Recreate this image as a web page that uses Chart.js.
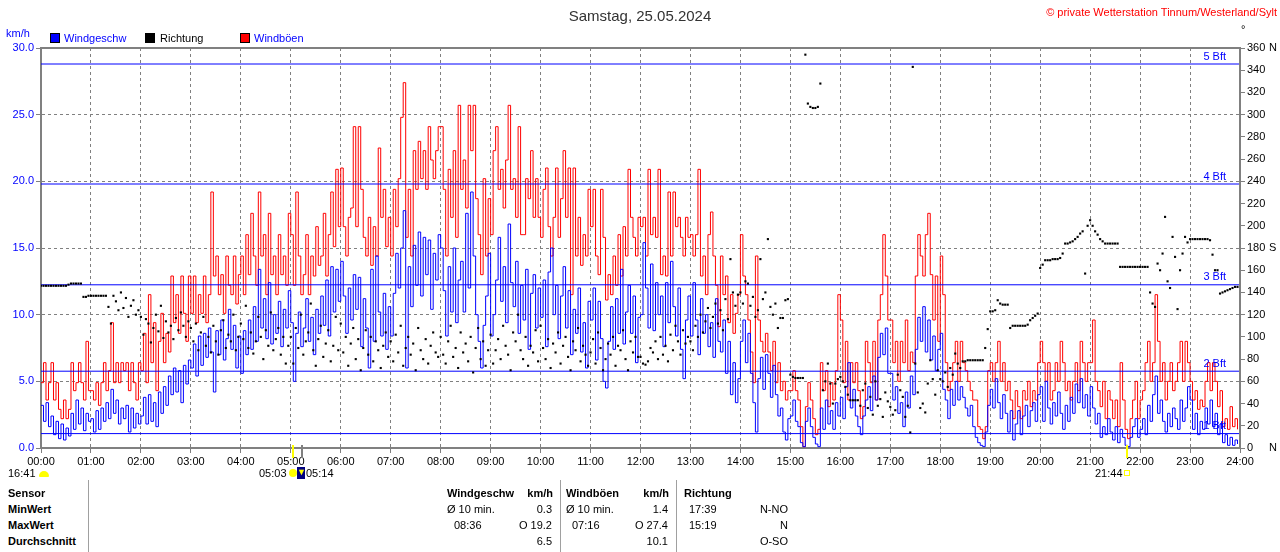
<!DOCTYPE html>
<html>
<head>
<meta charset="utf-8">
<title>Wind 25.05.2024</title>
<script src="https://cdn.jsdelivr.net/npm/chart.js@4.4.1/dist/chart.umd.min.js"></script>
<style>
  body { margin: 0; background: #fff; font-family: "Liberation Sans", Arial, sans-serif; }
  #wrap { position: relative; width: 1280px; height: 552px; overflow: hidden; background: #fff; }
  #c { position: absolute; left: 0; top: 0; }
  .t { position: absolute; white-space: nowrap; font-size: 11px; line-height: 14px; color: #000; }
  .r { text-align: right; }
  .b { font-weight: bold; }
  .sq { position: absolute; width: 10px; height: 10px; box-sizing: border-box; border: 1px solid #000; }
  .vl { position: absolute; top: 480px; width: 1px; height: 72px; background: #a0a0a0; }
</style>
</head>
<body>
<div id="wrap">
  <canvas id="c" width="1280" height="480"></canvas>

  <div class="t" style="left:0;width:1280px;text-align:center;top:7px;font-size:15px;line-height:18px;color:#333">Samstag, 25.05.2024</div>
  <div class="t r" style="right:3px;top:5px;color:#ff0000">© private Wetterstation Tinnum/Westerland/Sylt</div>
  <div class="t" style="left:1241px;top:22px">°</div>

  <div class="t" style="left:6px;top:26px;color:#0000ff">km/h</div>
  <div class="sq" style="left:50px;top:33px;background:#0000ff"></div>
  <div class="t" style="left:64px;top:31px;color:#0000ff">Windgeschw</div>
  <div class="sq" style="left:145px;top:33px;background:#000"></div>
  <div class="t" style="left:160px;top:31px">Richtung</div>
  <div class="sq" style="left:240px;top:33px;background:#ff0000"></div>
  <div class="t" style="left:254px;top:31px;color:#0000ff">Windböen</div>

  <!-- Sonne / Mond -->
  <div class="t" style="left:8px;top:466px">16:41</div>
  <div style="position:absolute;left:39px;top:471px;width:10px;height:6px;background:#ffff00;border-radius:5px 5px 1px 1px"></div>
  <div class="t" style="left:259px;top:466px">05:03</div>
  <div style="position:absolute;left:289px;top:469px;width:8px;height:8px;background:#ffff00;border-radius:4px"></div>
  <div style="position:absolute;left:297px;top:467px;width:8px;height:12px;background:#000080;color:#ffff00;font-size:9px;line-height:10px;text-align:center">▼</div>
  <div class="t" style="left:306px;top:466px">05:14</div>
  <div class="t" style="left:1095px;top:466px">21:44</div>
  <div style="position:absolute;left:1124px;top:470px;width:6px;height:6px;box-sizing:border-box;border:1px solid #ffff00"></div>

  <!-- Tabelle -->
  <div class="vl" style="left:88px"></div>
  <div class="vl" style="left:560px"></div>
  <div class="vl" style="left:676px"></div>

  <div class="t b" style="left:8px;top:486px">Sensor</div>
  <div class="t b" style="left:8px;top:502px">MinWert</div>
  <div class="t b" style="left:8px;top:518px">MaxWert</div>
  <div class="t b" style="left:8px;top:534px">Durchschnitt</div>

  <div class="t b" style="left:447px;top:486px">Windgeschw</div>
  <div class="t b r" style="right:727px;top:486px">km/h</div>
  <div class="t b" style="left:566px;top:486px">Windböen</div>
  <div class="t b r" style="right:611px;top:486px">km/h</div>
  <div class="t b" style="left:684px;top:486px">Richtung</div>

  <div class="t" style="left:447px;top:502px">Ø 10 min.</div>
  <div class="t r" style="right:728px;top:502px">0.3</div>
  <div class="t" style="left:566px;top:502px">Ø 10 min.</div>
  <div class="t r" style="right:612px;top:502px">1.4</div>
  <div class="t" style="left:689px;top:502px">17:39</div>
  <div class="t r" style="right:492px;top:502px">N-NO</div>

  <div class="t" style="left:454px;top:518px">08:36</div>
  <div class="t r" style="right:728px;top:518px">O 19.2</div>
  <div class="t" style="left:572px;top:518px">07:16</div>
  <div class="t r" style="right:612px;top:518px">O 27.4</div>
  <div class="t" style="left:689px;top:518px">15:19</div>
  <div class="t r" style="right:492px;top:518px">N</div>

  <div class="t r" style="right:728px;top:534px">6.5</div>
  <div class="t r" style="right:612px;top:534px">10.1</div>
  <div class="t r" style="right:492px;top:534px">O-SO</div>
</div>

<script>
// Messwerte alle 3 Minuten, eine Zeile pro Stunde (00:00 .. 23:57)
var stepMin = 3;
var hourLabels = ['00:00','01:00','02:00','03:00','04:00','05:00','06:00','07:00','08:00','09:00','10:00','11:00','12:00',
                  '13:00','14:00','15:00','16:00','17:00','18:00','19:00','20:00','21:00','22:00','23:00','24:00'];

// Windböen km/h
var gust = [
  4.9,6.4,3.6,4.9,6.4,3.6,4.9,2.9,2.2,3.6,2.2,2.9,6.4,4.3,4.9,6.4,4.9,3.6,8.0,4.3,
  4.3,3.6,4.9,3.2,4.9,6.4,4.3,5.8,9.4,4.9,6.4,4.9,6.4,5.8,6.4,4.3,6.4,4.9,3.6,6.4,
  5.8,8.6,4.9,11.5,6.4,9.4,4.3,8.0,10.1,6.4,8.6,7.2,12.9,9.4,11.5,8.6,12.9,10.1,8.0,12.9,
  10.1,12.9,9.4,11.5,10.1,12.9,9.4,11.5,19.2,12.9,14.4,11.5,13.0,10.1,14.4,12.2,11.5,14.4,10.8,13.0,
  14.4,11.5,16.0,13.0,17.6,14.4,12.2,19.2,14.4,16.0,11.5,17.6,13.0,14.4,11.5,16.0,13.0,14.4,12.2,17.6,
  16.0,12.2,19.2,14.4,11.5,13.0,16.0,11.5,14.4,12.9,16.6,13.7,14.4,17.6,12.9,16.0,19.2,15.1,20.9,16.6,
  21.0,16.6,14.4,17.3,18.0,24.1,16.6,24.1,19.4,15.8,14.4,17.3,13.7,16.6,14.4,22.5,17.3,19.4,15.1,17.3,
  14.4,19.4,16.6,20.2,24.8,27.4,15.8,19.4,14.4,22.3,19.4,23.0,20.2,22.3,19.4,24.1,21.6,20.2,22.3,24.1,
  24.1,19.4,14.4,20.9,17.3,22.3,15.8,25.7,19.4,21.6,18.0,25.7,22.3,25.7,18.7,16.0,13.0,20.2,14.4,18.7,
  16.0,22.3,24.1,19.4,20.9,18.0,21.6,25.7,19.4,20.2,17.3,24.1,16.0,16.0,20.2,18.7,22.3,17.3,20.2,17.3,
  15.8,19.4,21.0,16.6,14.4,17.3,21.0,15.8,18.7,22.3,17.3,21.0,11.5,21.0,14.4,17.3,13.7,16.0,14.4,19.4,
  16.6,19.4,14.4,13.0,19.4,15.8,11.1,13.0,11.5,14.4,12.2,16.0,12.9,16.6,14.4,20.9,17.3,15.8,14.4,17.3,
  16.6,17.3,14.4,20.9,16.0,17.3,15.8,20.9,13.0,14.4,12.9,19.2,14.4,19.2,16.6,17.3,15.8,14.4,17.3,15.8,
  16.0,14.4,16.0,20.9,12.9,14.4,11.5,16.0,17.7,14.4,12.2,9.1,14.4,11.5,12.9,9.4,11.5,8.6,10.1,11.5,
  16.0,12.9,11.5,9.6,7.2,4.9,14.4,9.6,8.0,7.2,8.6,7.2,5.8,8.0,4.9,6.4,4.3,5.0,3.6,4.3,
  4.3,5.8,4.3,3.6,1.6,0.1,3.1,4.9,3.6,2.2,1.0,1.4,6.4,4.3,5.8,3.1,4.9,3.6,5.8,11.5,
  9.6,4.9,8.0,3.6,6.4,4.9,6.4,4.3,2.2,3.1,8.0,6.4,4.9,8.0,3.6,9.6,11.5,16.0,12.9,9.6,
  9.6,6.4,8.0,5.0,8.0,6.4,9.6,5.8,7.2,6.4,12.9,16.0,14.4,12.9,16.0,17.6,13.0,9.6,12.9,8.0,
  14.4,11.5,6.4,4.3,5.0,6.4,8.0,5.0,8.0,6.4,5.8,5.0,4.3,3.6,3.6,1.6,1.4,0.7,1.6,5.8,
  6.4,5.0,6.4,8.0,5.0,6.4,4.3,5.0,3.6,2.2,4.3,3.1,2.2,4.3,3.6,5.0,3.1,4.3,3.6,6.4,
  8.0,6.4,5.0,6.4,3.6,4.3,6.4,5.0,8.0,6.4,4.3,5.0,3.6,5.0,6.4,4.3,8.0,6.4,5.0,6.4,
  6.4,9.6,5.0,4.3,3.1,5.0,2.2,4.3,3.6,2.2,3.6,1.6,6.4,3.6,1.4,0.7,2.2,3.6,5.0,2.2,
  3.6,4.3,6.4,8.0,5.0,6.4,11.5,8.0,5.0,6.4,3.6,5.0,6.4,4.3,5.0,6.4,8.0,5.0,8.0,6.4,
  5.0,3.6,4.3,2.9,3.6,3.1,5.0,6.4,4.3,6.4,5.0,3.1,4.3,1.6,2.2,1.4,3.1,1.6,2.2,1.4
];

// Windgeschwindigkeit km/h
var speed = [
  3.2,2.0,3.4,1.6,2.4,1.0,2.0,0.7,1.8,0.6,1.5,0.9,2.6,1.4,3.6,1.8,3.0,1.3,2.6,2.0,
  2.2,1.2,2.8,1.4,3.0,2.0,3.4,2.2,4.4,2.6,3.6,1.8,3.0,2.2,3.2,1.2,3.0,1.5,2.6,1.8,
  2.4,3.8,1.8,4.0,2.0,3.4,1.6,4.2,2.6,4.6,3.2,5.4,4.0,6.0,4.2,5.8,3.4,6.2,4.8,6.6,
  6.0,7.8,5.4,8.4,6.2,8.6,6.8,9.0,7.2,4.2,8.8,7.0,9.6,6.6,8.2,10.4,7.4,9.2,6.0,8.4,
  5.6,8.8,7.0,9.6,7.4,10.6,8.0,13.4,9.0,11.2,8.2,12.4,7.8,10.0,8.6,11.0,7.6,10.4,9.0,11.8,
  9.4,5.0,8.6,10.2,7.6,9.0,11.2,8.0,9.8,7.0,10.4,8.6,11.4,9.2,12.6,8.4,13.6,10.2,13.4,11.0,
  14.0,11.4,8.6,12.0,9.6,13.0,10.4,12.8,7.6,11.2,9.0,6.0,13.4,8.0,14.4,10.2,8.4,11.6,7.4,10.6,
  8.4,11.6,14.6,12.0,15.0,17.8,6.0,13.6,10.6,15.2,12.2,16.2,11.4,15.8,13.0,15.6,10.4,14.6,12.6,16.0,
  15.0,11.8,8.4,13.6,10.2,15.0,9.4,12.6,14.0,10.2,17.6,12.0,19.2,14.4,10.0,8.0,6.0,9.2,11.4,14.6,
  8.4,10.0,12.6,15.8,11.0,13.6,9.4,16.8,12.4,10.6,14.0,8.6,12.2,9.6,13.4,7.4,11.6,13.0,9.0,12.0,
  9.8,12.6,7.6,13.2,15.0,10.0,12.2,8.2,11.4,13.6,9.0,11.8,7.0,10.4,8.6,12.0,7.2,9.4,6.0,11.0,
  9.6,12.0,6.6,11.0,8.2,5.0,4.5,8.0,10.6,7.4,11.2,8.6,13.4,7.8,10.2,12.2,8.6,11.4,6.4,9.8,
  10.0,15.4,12.0,9.0,13.8,8.8,12.4,10.0,11.4,7.6,12.4,9.4,14.0,10.6,8.4,12.0,7.4,5.2,9.6,11.4,
  8.4,12.4,9.6,7.0,11.2,8.6,10.0,7.6,9.4,6.8,11.2,8.0,7.2,9.6,5.6,8.0,4.0,6.4,3.4,5.2,
  8.0,9.6,6.4,8.6,5.6,3.4,1.2,5.2,6.8,4.4,7.0,5.6,3.8,6.2,4.0,2.4,3.0,1.2,0.6,2.2,
  2.4,3.6,2.0,1.6,0.4,0.1,2.0,3.0,1.6,0.8,0.3,0.1,3.0,1.4,3.6,1.8,2.8,1.4,3.4,2.4,
  3.8,2.2,4.6,6.4,3.0,4.4,2.4,1.6,1.0,2.4,3.6,4.6,2.8,5.4,3.6,6.8,8.6,7.0,9.0,5.6,
  5.6,3.6,4.6,2.6,3.4,1.6,4.2,3.0,5.4,4.0,7.4,9.8,8.0,10.6,7.2,9.6,6.6,8.4,5.8,7.4,
  8.6,4.4,3.6,2.2,4.4,3.2,5.0,3.6,4.6,3.8,3.0,2.4,3.2,1.6,0.8,0.4,0.2,0.1,1.2,3.2,
  4.4,3.0,5.2,3.4,2.2,4.0,2.6,1.2,2.8,0.6,1.8,2.8,1.0,2.4,3.2,1.6,2.8,3.4,2.0,4.0,
  4.6,2.0,5.0,3.0,1.8,3.4,2.4,4.2,2.6,1.4,3.2,2.0,3.8,2.6,4.8,3.4,5.2,3.0,4.0,2.4,
  4.6,3.0,1.8,2.6,0.8,1.6,1.0,2.2,1.2,0.6,1.6,0.4,1.4,0.8,0.2,0.1,0.8,1.6,2.2,0.8,
  1.4,2.2,1.0,3.2,2.0,4.0,5.4,2.6,3.6,2.0,1.2,2.6,1.6,3.0,2.2,1.4,3.6,2.0,3.0,4.6,
  3.6,1.4,2.6,1.0,2.0,1.4,3.0,1.8,3.6,1.6,2.6,1.0,1.8,0.4,1.0,0.2,0.8,0.2,0.6,0.3
];

// Windrichtung Grad
var direction = [
  146,146,146,146,146,146,146,146,146,146,146,147,148,148,148,148,148,136,136,137,
  137,137,137,137,137,137,137,127,112,137,132,124,140,126,135,118,128,133,120,124,
  118,102,116,112,95,108,120,105,128,99,114,104,110,98,117,106,122,110,100,114,
  108,96,112,88,104,118,92,100,86,110,96,84,106,115,90,102,96,120,88,100,
  112,98,128,90,104,85,96,118,100,80,106,92,122,88,98,108,84,100,76,92,
  100,76,108,90,120,84,96,104,130,88,74,98,110,82,94,106,78,92,118,88,
  112,86,100,74,94,108,80,98,70,90,106,84,100,78,96,88,72,92,104,82,
  96,78,102,86,110,74,90,100,84,94,70,108,88,80,98,76,92,104,86,82,
  100,84,76,96,110,82,90,72,104,86,94,78,100,68,90,108,80,96,74,88,
  102,76,88,98,80,110,92,84,70,104,96,120,88,80,100,74,92,86,106,78,
  110,90,80,98,72,94,86,104,76,92,100,82,70,96,88,108,78,92,84,74,
  86,98,76,104,90,70,80,94,84,100,74,92,88,106,80,70,96,86,100,82,
  82,76,75,78,90,86,96,80,100,84,92,78,102,88,110,96,84,106,94,100,
  96,88,110,100,120,104,114,126,108,118,130,112,124,106,134,116,170,140,128,138,
  140,130,150,148,128,136,118,124,170,134,140,188,127,120,130,108,117,117,133,134,
  66,64,63,63,63,63,354,310,307,306,306,307,328,52,60,76,58,40,58,62,
  64,60,55,48,43,43,43,43,38,52,58,36,46,30,60,38,44,28,50,42,
  37,30,34,66,52,46,28,38,14,343,76,50,36,40,32,58,79,62,48,70,
  62,60,68,55,72,66,85,76,72,78,78,79,79,79,79,79,79,79,90,107,
  123,123,124,133,130,129,129,129,108,110,110,110,110,110,110,111,115,117,119,121,
  162,165,169,169,169,170,170,170,171,175,184,184,185,186,188,190,193,195,157,200,
  205,200,195,192,188,186,184,184,184,184,184,184,163,163,163,163,163,163,163,163,
  163,163,163,163,140,130,127,166,160,175,208,150,144,190,172,125,160,175,190,185,
  188,188,188,188,188,188,188,188,187,174,160,160,139,140,141,142,143,144,145,145
];

// Beaufort-Grenzen in km/h
var bftLevels = [1.08, 5.76, 12.24, 19.8, 28.8];
var bftLabels = ['1 Bft', '2 Bft', '3 Bft', '4 Bft', '5 Bft'];

// Himmelsrichtung an der rechten Achse
var compassTicks = [0, 180, 360];
var compassLabels = ['N', 'S', 'N'];

// Sonnenaufgang, Monduntergang, Sonnenuntergang (Minuten seit 0 Uhr)
var sunMarks = [303, 314, 1304];
var sunColors = ['#ffff00', '#808080', '#ffff00'];

function toPts(arr) {
  return arr.map(function (v, i) { return { x: i * stepMin, y: v }; });
}

Chart.defaults.font.family = "'Liberation Sans', Arial, sans-serif";
Chart.defaults.font.size = 11;

var bftSets = bftLevels.map(function (v) {
  return {
    data: [{ x: 0, y: v }, { x: 1440, y: v }],
    borderColor: '#0000ff', borderWidth: 1, pointRadius: 0, yAxisID: 'y', order: 2
  };
});

var overlay = {
  id: 'overlay',
  afterDraw: function (chart) {
    var ctx = chart.ctx, a = chart.chartArea;
    var y = chart.scales.y, y2 = chart.scales.y2, x = chart.scales.x;
    ctx.save();
    // Rahmen oben und rechts
    ctx.strokeStyle = '#808080';
    ctx.lineWidth = 2;
    ctx.beginPath();
    ctx.moveTo(a.left, a.top);
    ctx.lineTo(a.right, a.top);
    ctx.lineTo(a.right, a.bottom);
    ctx.stroke();
    // Beaufort-Beschriftung
    ctx.font = "11px 'Liberation Sans', Arial, sans-serif";
    ctx.fillStyle = '#0000ff';
    ctx.textAlign = 'right';
    ctx.textBaseline = 'bottom';
    bftLevels.forEach(function (v, i) {
      ctx.fillText(bftLabels[i], a.right - 14, y.getPixelForValue(v) - 2);
    });
    // N / S
    ctx.fillStyle = '#000';
    ctx.textAlign = 'left';
    ctx.textBaseline = 'middle';
    compassTicks.forEach(function (v, i) {
      ctx.fillText(compassLabels[i], a.right + 29, y2.getPixelForValue(v));
    });
    // Marker unter der Zeitachse
    sunMarks.forEach(function (m, i) {
      ctx.fillStyle = sunColors[i];
      ctx.fillRect(Math.round(x.getPixelForValue(m)) - 1, a.bottom - 3, 2, 13);
    });
    ctx.restore();
  }
};

new Chart(document.getElementById('c'), {
  type: 'line',
  data: {
    datasets: [
      {
        label: 'Richtung', data: toPts(direction), yAxisID: 'y2', showLine: false,
        pointStyle: 'rect', pointRadius: 1.5, pointBorderWidth: 0,
        backgroundColor: '#000', borderColor: '#000', order: 1
      }
    ].concat(bftSets).concat([
      {
        label: 'Windgeschw', data: toPts(speed), yAxisID: 'y',
        borderColor: '#0000ff', borderWidth: 1, pointRadius: 0, stepped: true, order: 3
      },
      {
        label: 'Windböen', data: toPts(gust), yAxisID: 'y',
        borderColor: '#ff0000', borderWidth: 1, pointRadius: 0, stepped: true, order: 4
      }
    ])
  },
  options: {
    responsive: false,
    animation: false,
    devicePixelRatio: 1,
    layout: { padding: { top: 48, left: 0, right: 0, bottom: 0 } },
    plugins: { legend: { display: false }, tooltip: { enabled: false } },
    scales: {
      x: {
        type: 'linear', min: 0, max: 1440,
        ticks: {
          stepSize: 60, autoSkip: false, maxRotation: 0, color: '#000', padding: 2,
          callback: function (v) { return hourLabels[v / 60]; }
        },
        grid: { color: '#808080', tickColor: '#808080', tickLength: 5 },
        border: { color: '#808080', width: 2, dash: [3, 3] },
        afterFit: function (s) { s.height = 32; }
      },
      y: {
        position: 'left', min: 0, max: 30,
        ticks: {
          stepSize: 5, color: '#0000ff', padding: 2,
          callback: function (v) { return v.toFixed(1); }
        },
        grid: { color: '#808080', tickColor: '#808080', tickLength: 5 },
        border: { color: '#808080', width: 2, dash: [3, 3] },
        afterFit: function (s) { s.width = 41; }
      },
      y2: {
        position: 'right', min: 0, max: 360,
        ticks: { stepSize: 20, color: '#000', padding: 2 },
        grid: { drawOnChartArea: false, color: '#808080', tickColor: '#808080', tickLength: 5 },
        border: { color: '#808080', width: 2 },
        afterFit: function (s) { s.width = 40; }
      }
    }
  },
  plugins: [overlay]
});
</script>
</body>
</html>
